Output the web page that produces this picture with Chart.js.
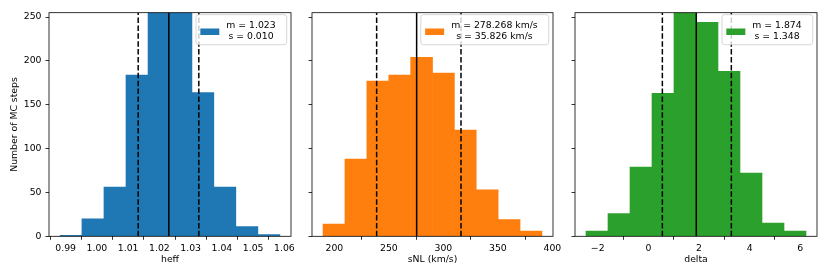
<!DOCTYPE html>
<html>
<head>
<meta charset="utf-8">
<script src="https://cdn.jsdelivr.net/npm/chart.js@4/dist/chart.umd.min.js"></script>
<style>
  html, body { margin: 0; padding: 0; background: #fff; }
  #wrap { position: relative; width: 830px; height: 277px; }
  #wrap canvas { position: absolute; left: 0; top: 0; }
</style>
</head>
<body>
<div id="wrap">
  <canvas id="heffChart" width="830" height="277"></canvas>
  <canvas id="snlChart" width="830" height="277"></canvas>
  <canvas id="deltaChart" width="830" height="277"></canvas>
</div>
<script>
// histogram bins (edges) and counts
const heffEdges = [0.9882, 0.9952, 1.0022, 1.0093, 1.0163, 1.0234, 1.0304, 1.0374, 1.0445, 1.0515, 1.0586];
const heffCounts = [1, 20, 56, 184, 276, 280, 164, 56, 11, 2];
const heffLines = [1.0132, 1.0230, 1.0326]; // low, mid, high

const snlEdges = [189.6, 209.7, 229.8, 249.9, 270.0, 290.1, 310.1, 330.2, 350.3, 370.4, 390.5];
const snlCounts = [14, 88, 177, 184, 204, 186, 121, 53, 19, 6];
const snlLines = [238.8, 275.5, 316.2];

const deltaEdges = [-2.463, -1.594, -0.725, 0.144, 1.012, 1.881, 2.750, 3.619, 4.488, 5.357, 6.225];
const deltaCounts = [6, 26, 79, 163, 255, 244, 188, 72, 15, 6];
const deltaLines = [0.553, 1.893, 3.277];

const heffTicks = [0.99, 1.00, 1.01, 1.02, 1.03, 1.04, 1.05, 1.06];
const heffTickLabels = ["0.99", "1.00", "1.01", "1.02", "1.03", "1.04", "1.05", "1.06"];
const snlTicks = [200, 250, 300, 350, 400];
const snlTickLabels = ["200", "250", "300", "350", "400"];
const deltaTicks = [-2, 0, 2, 4, 6];
const deltaTickLabels = ["\u22122", "0", "2", "4", "6"];

const countTicks = [0, 50, 100, 150, 200, 250];
const countMax = 255;

const FONT = { family: "'DejaVu Sans', sans-serif", size: 9.3 };

const boxAndLegend = {
  id: 'boxAndLegend',
  afterDraw(chart) {
    const ctx = chart.ctx;
    const a = chart.chartArea;
    const lg = chart.options.plugins.boxAndLegend;
    ctx.save();
    ctx.strokeStyle = '#000';
    ctx.lineWidth = 0.8;
    ctx.strokeRect(a.left, a.top, a.right - a.left, a.bottom - a.top);

    // legend
    ctx.font = FONT.size + "px 'DejaVu Sans', sans-serif";
    const tw = Math.max(...lg.lines.map(t => ctx.measureText(t).width));
    const bw = 4.3 + 19 + 7 + tw + 11;
    const bh = 30;
    const bx = a.right - 4.3 - bw;
    const by = a.top + 2;
    ctx.beginPath();
    ctx.roundRect(bx, by, bw, bh, 2.5);
    ctx.fillStyle = 'rgba(255,255,255,0.8)';
    ctx.fill();
    ctx.strokeStyle = '#cccccc';
    ctx.lineWidth = 0.8;
    ctx.stroke();
    ctx.fillStyle = lg.color;
    ctx.fillRect(bx + 4.3, by + 17 - 3.2, 19, 6.5);
    ctx.fillStyle = '#000';
    ctx.textAlign = 'center';
    ctx.textBaseline = 'middle';
    const cx = bx + 4.3 + 19 + 7 + tw / 2;
    ctx.fillText(lg.lines[0], cx, by + 10.6);
    ctx.fillText(lg.lines[1], cx, by + 21.6);
    ctx.restore();
  }
};

function makePanel(id, p) {
  const centers = [];
  for (let i = 0; i < p.counts.length; i++) centers.push((p.edges[i] + p.edges[i + 1]) / 2);
  const bars = centers.map((c, i) => ({ x: c, y: p.counts[i] }));
  const vline = (x, dash) => ({
    type: 'line',
    data: [{ x: x, y: 0 }, { x: x, y: countMax }],
    borderColor: '#000',
    borderWidth: 1.5,
    borderDash: dash,
    pointRadius: 0,
    fill: false,
    order: 1
  });
  const yW = p.first ? 49 : 6;
  return new Chart(document.getElementById(id), {
    type: 'bar',
    data: {
      datasets: [
        { data: bars, backgroundColor: p.color, borderWidth: 0, barPercentage: 1, categoryPercentage: 1, order: 2 },
        vline(p.lines[0], [5.5, 2.4]),
        vline(p.lines[1], []),
        vline(p.lines[2], [5.5, 2.4])
      ]
    },
    options: {
      responsive: false,
      animation: false,
      events: [],
      layout: { padding: { left: p.left - yW, right: 830 - p.right, top: 12.7, bottom: 0 } },
      plugins: {
        legend: { display: false },
        tooltip: { enabled: false },
        boxAndLegend: { color: p.color, lines: p.legend }
      },
      scales: {
        x: {
          type: 'linear',
          offset: false,
          min: p.xmin,
          max: p.xmax,
          afterBuildTicks: s => { s.ticks = p.ticks.map(v => ({ value: v })); },
          afterFit: s => { s.height = 40.7; },
          ticks: {
            autoSkip: false, maxRotation: 0, padding: 3.3, color: '#000', font: FONT,
            callback: (v, i) => p.tickLabels[i]
          },
          grid: { drawOnChartArea: false, drawTicks: true, tickLength: 3.5, color: '#000', lineWidth: 0.8 },
          border: { display: false },
          title: { display: true, text: p.xTitle, color: '#000', font: FONT, padding: { top: 0, bottom: 11.9 } }
        },
        y: {
          min: 0,
          max: countMax,
          afterBuildTicks: s => { s.ticks = countTicks.map(v => ({ value: v })); },
          afterFit: s => { s.width = yW; },
          ticks: {
            padding: 4, color: '#000', font: FONT,
            callback: v => p.first ? String(v) : ''
          },
          grid: { drawOnChartArea: false, drawTicks: true, tickLength: 3.5, color: '#000', lineWidth: 0.8 },
          border: { display: false },
          title: { display: p.first, text: 'Number of MC steps', color: '#000', font: FONT, padding: { top: 9.4, bottom: 0 } }
        }
      }
    },
    plugins: [boxAndLegend]
  });
}

makePanel('heffChart', {
  first: true, left: 49, right: 291, xmin: 0.98466, xmax: 1.0621,
  edges: heffEdges, counts: heffCounts, lines: heffLines, color: '#1f77b4',
  ticks: heffTicks, tickLabels: heffTickLabels, xTitle: 'heff',
  legend: ['m = 1.023', 's = 0.010']
});
makePanel('snlChart', {
  first: false, left: 312, right: 553, xmin: 179.5, xmax: 400.6,
  edges: snlEdges, counts: snlCounts, lines: snlLines, color: '#ff7f0e',
  ticks: snlTicks, tickLabels: snlTickLabels, xTitle: 'sNL (km/s)',
  legend: ['m = 278.268 km/s', 's = 35.826 km/s']
});
makePanel('deltaChart', {
  first: false, left: 575, right: 817, xmin: -2.897, xmax: 6.66,
  edges: deltaEdges, counts: deltaCounts, lines: deltaLines, color: '#2ca02c',
  ticks: deltaTicks, tickLabels: deltaTickLabels, xTitle: 'delta',
  legend: ['m = 1.874', 's = 1.348']
});
</script>
</body>
</html>
